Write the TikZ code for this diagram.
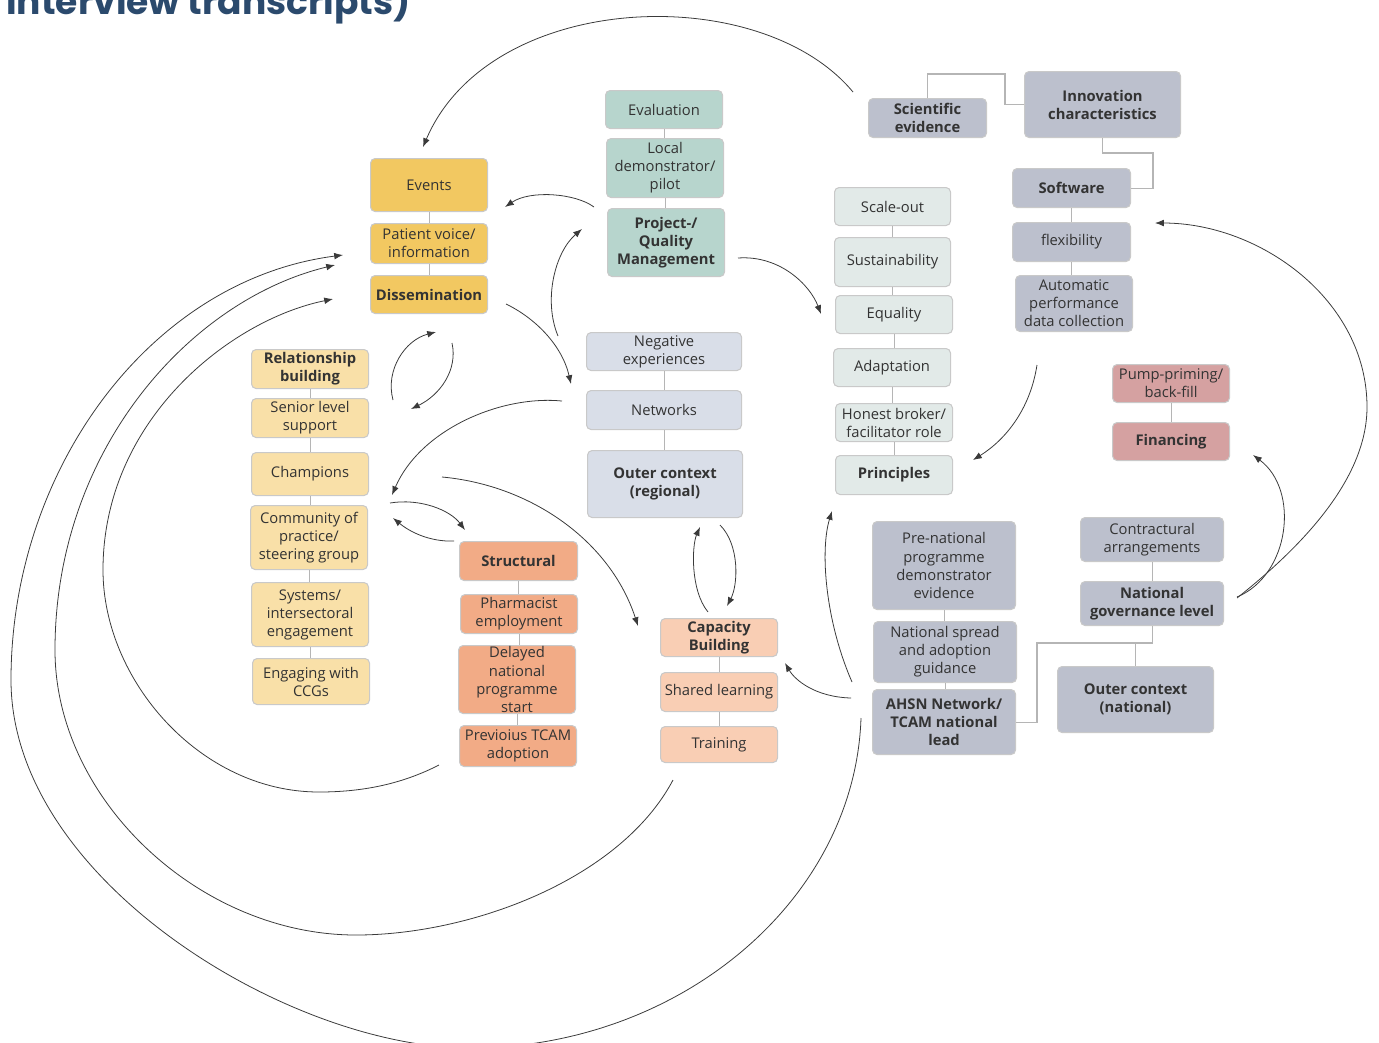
\documentclass[tikz,border=0pt]{standalone}
\usepackage{fontspec}
\setmainfont{Open Sans}
\newfontfamily\headfont{Poppins}
\usetikzlibrary{arrows.meta}

\definecolor{ink}{HTML}{333333}
\definecolor{titleblue}{HTML}{2B4A6D}
\definecolor{boxline}{HTML}{C9C9C9}
\definecolor{linkgray}{HTML}{B5B5B5}
\definecolor{flowgray}{HTML}{3A3A3A}
\definecolor{gold}{HTML}{F2C861}
\definecolor{sand}{HTML}{F9E0A8}
\definecolor{teal}{HTML}{B7D5CD}
\definecolor{mist}{HTML}{D9DEE8}
\definecolor{paleteal}{HTML}{E2EAE8}
\definecolor{slate}{HTML}{BCC0CD}
\definecolor{rose}{HTML}{D5A1A1}
\definecolor{coral}{HTML}{F2AB86}
\definecolor{peach}{HTML}{F9CEB4}

\begin{document}
\begin{tikzpicture}[x=0.02cm,y=-0.02cm,
  box/.style={draw=boxline, line width=0.6pt, rounded corners=2.6pt,
    anchor=north west, inner sep=0pt, align=center, text=ink,
    font=\fontsize{8.4}{10.3}\selectfont},
  hbox/.style={box, font=\fontsize{8.4}{10.3}\selectfont\bfseries},
  wh/.style 2 args={minimum width=#1*0.02cm, minimum height=#2*0.02cm},
  link/.style={draw=linkgray, line width=0.6pt},
  flow/.style={draw=flowgray, line width=0.45pt,
    -{Latex[length=5pt,width=3.8pt]}}]

\useasboundingbox (0,0) rectangle (1379,1042);

% heading (its upper part runs off the page)
\node[anchor=base west, inner sep=0pt, text=titleblue,
  font=\headfont\bfseries\fontsize{20.5}{24}\selectfont] (title) at (6,14)
  {interview transcripts)};

% ---- dissemination cluster
\node[box, fill=gold, wh={117}{53}] (events) at (370,158) {Events};
\node[box, fill=gold, wh={117}{40}] (patient) at (370,223) {Patient voice/\\information};
\node[hbox, fill=gold, wh={117}{38}] (dissem) at (370,275) {Dissemination};

% ---- relationship building cluster
\node[hbox, fill=sand, wh={117}{39}] (relb) at (251,349) {Relationship\\building};
\node[box, fill=sand, wh={117}{39}] (senior) at (251,398) {Senior level\\support};
\node[box, fill=sand, wh={117}{43}] (champ) at (251,452) {Champions};
\node[box, fill=sand, wh={117}{64}] (community) at (250,505) {Community of\\practice/\\steering group};
\node[box, fill=sand, wh={117}{64}] (systems) at (251,582) {Systems/\\intersectoral\\engagement};
\node[box, fill=sand, wh={117}{46}] (ccg) at (252,658) {Engaging with\\CCGs};

% ---- project management cluster
\node[box, fill=teal, wh={117}{38}] (eval) at (605,90) {Evaluation};
\node[box, fill=teal, wh={117}{59}] (local) at (606,138) {Local\\demonstrator/\\pilot};
\node[hbox, fill=teal, wh={117}{68}] (pqm) at (607,208) {Project-/\\Quality\\Management};

% ---- regional outer context
\node[box, fill=mist, wh={155}{38}] (neg) at (586,332) {Negative\\experiences};
\node[box, fill=mist, wh={155}{39}] (netw) at (586,390) {Networks};
\node[hbox, fill=mist, wh={155}{67}] (outreg) at (587,450) {Outer context\\(regional)};

% ---- principles
\node[box, fill=paleteal, wh={116}{38}] (scale) at (834,187) {Scale-out};
\node[box, fill=paleteal, wh={116}{49}] (sust) at (834,237) {Sustainability};
\node[box, fill=paleteal, wh={117}{38}] (equal) at (835,295) {Equality};
\node[box, fill=paleteal, wh={117}{38}] (adapt) at (833,348) {Adaptation};
\node[box, fill=paleteal, wh={117}{38}] (honest) at (835,403) {Honest broker/\\facilitator role};
\node[hbox, fill=paleteal, wh={117}{39}] (princ) at (835,455) {Principles};

% ---- innovation characteristics
\node[hbox, fill=slate, wh={118}{39}] (sci) at (868,98) {Scientific\\evidence};
\node[hbox, fill=slate, wh={156}{66}] (innov) at (1024,71) {Innovation\\characteristics};
\node[hbox, fill=slate, wh={118}{39}] (soft) at (1012,168) {Software};
\node[box, fill=slate, wh={118}{39}] (flex) at (1012,222) {flexibility};
\node[box, fill=slate, wh={117}{56}] (auto) at (1015,275) {Automatic\\performance\\data collection};

% ---- financing
\node[box, fill=rose, wh={117}{38}] (pump) at (1112,364) {Pump-priming/\\back-fill};
\node[hbox, fill=rose, wh={117}{38}] (fin) at (1112,422) {Financing};

% ---- structural
\node[hbox, fill=coral, wh={118}{39}] (struct) at (459,541) {Structural};
\node[box, fill=coral, wh={117}{39}] (pharm) at (460,594) {Pharmacist\\employment};
\node[box, fill=coral, wh={117}{68}] (delayed) at (458,645) {Delayed\\national\\programme\\start};
\node[box, fill=coral, wh={117}{41}] (prev) at (459,725) {Previoius TCAM\\adoption};

% ---- capacity building
\node[hbox, fill=peach, wh={117}{38}] (cap) at (660,618) {Capacity\\Building};
\node[box, fill=peach, wh={117}{39}] (shared) at (660,672) {Shared learning};
\node[box, fill=peach, wh={117}{36}] (train) at (660,726) {Training};

% ---- national outer context
\node[box, fill=slate, wh={143}{88}] (prenat) at (872,521) {Pre-national\\programme\\demonstrator\\evidence};
\node[box, fill=slate, wh={143}{61}] (spread) at (873,621) {National spread\\and adoption\\guidance};
\node[hbox, fill=slate, wh={143}{65}] (ahsn) at (872,689) {AHSN Network/\\TCAM national\\lead};
\node[box, fill=slate, wh={143}{44}] (contract) at (1080,517) {Contractural\\arrangements};
\node[hbox, fill=slate, wh={143}{44}] (gov) at (1080,581) {National\\governance level};
\node[hbox, fill=slate, wh={156}{66}] (outnat) at (1057,666) {Outer context\\(national)};

% ---- tree links inside the clusters
\foreach \a/\b in {events/patient, patient/dissem,
    relb/senior, senior/champ, champ/community, community/systems, systems/ccg,
    eval/local, local/pqm, neg/netw, netw/outreg,
    scale/sust, sust/equal, equal/adapt, adapt/honest, honest/princ,
    soft/flex, flex/auto, pump/fin,
    struct/pharm, pharm/delayed, delayed/prev, cap/shared, shared/train,
    prenat/spread, spread/ahsn, contract/gov}
  \draw[link] (\a.south) -- (\a.south |- \b.north);
\draw[link] (sci.north) |- (1005,74) |- (innov.west);
\draw[link] (innov.south) |- (1153,153) |- (soft.east);
\draw[link] (ahsn.east) -| (1037,643) -| (outnat.north);
\draw[link] (gov.south) |- (1135,643);

% ---- free ends of the influence arrows
\coordinate (evA) at (853,92);   \coordinate (evB) at (423,147);
\coordinate (pmA) at (594,207);  \coordinate (pmB) at (505,207);
\coordinate (ngA) at (558,336);  \coordinate (ngB) at (582,229);
\coordinate (dsA) at (506,304);  \coordinate (dsB) at (571,384);
\coordinate (qmA) at (738,258);  \coordinate (qmB) at (821,314);
\coordinate (auA) at (1037,365); \coordinate (auB) at (973,460);
\coordinate (rbA) at (393,400);  \coordinate (rbB) at (436,332);
\coordinate (rcA) at (452,343);  \coordinate (rcB) at (411,409);
\coordinate (nwA) at (562,401);  \coordinate (nwB) at (392,495);
\coordinate (cpA) at (390,503);  \coordinate (cpB) at (465,530);
\coordinate (stA) at (454,541);  \coordinate (stB) at (393,518);
\coordinate (chA) at (442,477);  \coordinate (chB) at (638,626);
\coordinate (cbA) at (708,612);  \coordinate (cbB) at (700,527);
\coordinate (orA) at (720,525);  \coordinate (orB) at (727,606);
\coordinate (ahA) at (851,698);  \coordinate (ahB) at (785,663);
\coordinate (ahC) at (852,682);  \coordinate (ahD) at (832,511);
\coordinate (loA) at (861,718);  \coordinate (loB) at (343,255);
\coordinate (lmA) at (673,780);  \coordinate (lmB) at (335,265);
\coordinate (liA) at (439,765);  \coordinate (liB) at (333,299);
\coordinate (ngvA) at (1237,598); \coordinate (ngvB) at (1155,223);
\coordinate (ngvC) at (1237,597); \coordinate (ngvD) at (1253,455);

% ---- influence arrows
\draw[flow] (evA) .. controls (760,-20) and (490,-10) .. (evB);
\draw[flow] (pmA) .. controls (575,193) and (530,190) .. (pmB);
\draw[flow] (ngA) .. controls (543,300) and (555,252) .. (ngB);
\draw[flow] (dsA) .. controls (535,318) and (562,345) .. (dsB);
\draw[flow] (qmA) .. controls (780,255) and (810,285) .. (qmB);
\draw[flow] (auA) .. controls (1030,410) and (1005,440) .. (auB);
\draw[flow] (rbA) .. controls (385,370) and (405,340) .. (rbB);
\draw[flow] (rcA) .. controls (458,370) and (440,395) .. (rcB);
\draw[flow] (nwA) .. controls (500,395) and (420,430) .. (nwB);
\draw[flow] (cpA) .. controls (420,498) and (450,510) .. (cpB);
\draw[flow] (stA) .. controls (430,542) and (410,532) .. (stB);
\draw[flow] (chA) .. controls (530,485) and (610,540) .. (chB);
\draw[flow] (cbA) .. controls (690,590) and (692,545) .. (cbB);
\draw[flow] (orA) .. controls (740,545) and (738,585) .. (orB);
\draw[flow] (ahA) .. controls (815,697) and (795,680) .. (ahB);
\draw[flow] (ahC) .. controls (825,620) and (820,550) .. (ahD);
\draw[flow] (loA) .. controls (855,900) and (680,1048) .. (470,1048)
  .. controls (290,1048) and (11,880) .. (11,680)
  .. controls (11,470) and (150,280) .. (loB);
\draw[flow] (lmA) .. controls (620,880) and (470,935) .. (356,935)
  .. controls (200,935) and (55,800) .. (55,650)
  .. controls (55,450) and (190,300) .. (lmB);
\draw[flow] (liA) .. controls (400,785) and (360,792) .. (319,792)
  .. controls (200,792) and (103,680) .. (103,570)
  .. controls (103,420) and (230,320) .. (liB);
\draw[flow] (ngvA) .. controls (1300,548) and (1367,480) .. (1367,407)
  .. controls (1367,300) and (1260,223) .. (ngvB);
\draw[flow] (ngvC) .. controls (1290,575) and (1300,490) .. (ngvD);

\end{tikzpicture}
\end{document}
